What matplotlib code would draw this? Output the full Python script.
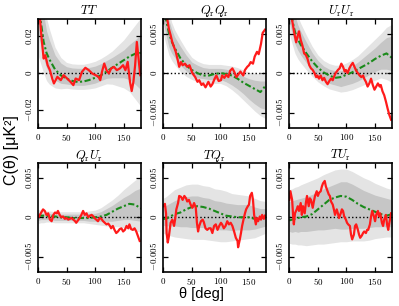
import numpy as np
import matplotlib
matplotlib.use("Agg")
import matplotlib.pyplot as plt
from matplotlib.ticker import FuncFormatter

plt.rcParams['mathtext.fontset'] = 'cm'

# common grid for the model curve and the simulation bands
grid = [0, 5, 10, 15, 20, 30, 40, 50, 60, 70, 80, 90, 100, 110, 120, 130, 140, 150, 160, 170, 180]

# ---------------- TT ----------------
tt_theta = [3, 6, 10, 13, 17, 21, 25, 28, 34, 40, 45, 51, 57, 62, 66, 72, 77, 83, 89, 95, 101, 106, 109,
            112, 116, 120, 124, 128, 133, 138, 143, 149, 153, 157, 161, 164, 167, 170, 173, 176, 179]
tt_data = [0.032, 0.0205, 0.0079, 0.0097, 0.0043, 0.0016, -0.0029, -0.0056, -0.002, -0.0038, -0.0011,
           -0.0029, -0.0047, -0.0065, -0.0029, -0.0038, 0.0007, 0.0029, 0.0016, -0.0002, -0.0011, -0.002,
           -0.0038, 0.0007, 0.0052, 0.0016, -0.0002, 0.0025, 0.0034, 0.0016, 0.0025, 0.0043, 0.0016, 0.0061,
           -0.0047, -0.0097, -0.0047, 0.0043, 0.0169, 0.0079, -0.0011]
tt_model = [0.045, 0.028, 0.017, 0.011, 0.0075, 0.002, -0.0012, -0.003, -0.0042, -0.0048, -0.0045, -0.0037,
            -0.0025, -0.0012, 0.0008, 0.003, 0.005, 0.007, 0.009, 0.0105, 0.011]
tt_mid = [0.04, 0.03, 0.02, 0.013, 0.009, 0.003, 0.0, -0.0012, -0.0018, -0.002, -0.002, -0.0015, -0.0008,
          0.0005, 0.002, 0.003, 0.004, 0.005, 0.006, 0.006, 0.006]
tt_s1 = [0.018, 0.015, 0.012, 0.01, 0.009, 0.0068, 0.0055, 0.0047, 0.0046, 0.0046, 0.0046, 0.0046, 0.0046,
         0.0046, 0.0048, 0.0055, 0.0065, 0.0075, 0.0095, 0.012, 0.015]
tt_s2 = [0.03, 0.025, 0.02, 0.017, 0.015, 0.011, 0.0085, 0.007, 0.0068, 0.0068, 0.0068, 0.007, 0.0072,
         0.0074, 0.0078, 0.009, 0.011, 0.013, 0.016, 0.02, 0.024]

# ---------------- QrQr ----------------
qq_theta = [7, 10, 13, 16, 19, 22, 25, 28, 31, 34, 38, 42, 46, 51, 56, 60, 63, 67, 70, 74, 79, 83, 86, 90,
            93, 97, 101, 103, 107, 110, 114, 117, 121, 124, 128, 131, 135, 140, 143, 147, 150, 153, 157,
            160, 164, 167, 171, 174, 178]
qq_data = [0.0069, 0.0056, 0.0048, 0.0039, 0.0033, 0.0027, 0.0018, 0.0008, 0.0014, 0.001, 0.0012, 0.0008,
           0.001, 0.0, -0.0005, -0.0011, -0.0009, -0.0015, -0.0013, -0.0018, -0.0011, -0.0017, -0.0014,
           -0.0007, -0.0003, -0.001, -0.0009, -0.0003, -0.0006, -0.0002, -0.0005, 0.0003, 0.0006, 0.0002,
           -0.0005, -0.0002, 0.0002, -0.0003, 0.0004, 0.0008, 0.001, 0.0014, 0.0012, 0.0021, 0.0027, 0.0024,
           0.0037, 0.0051, 0.0055]
qq_model = [0.009, 0.0068, 0.0051, 0.004, 0.0032, 0.0019, 0.001, 0.0004, 0.0, -0.0003, -0.0003, -0.0001,
            0.0, -0.0001, -0.0003, -0.0007, -0.0012, -0.0016, -0.002, -0.0024, -0.0015]
qq_mid = [0.009, 0.0068, 0.005, 0.004, 0.0033, 0.0022, 0.0013, 0.0006, 0.0002, 0.0, -0.0001, -0.0001,
          -0.0001, -0.0003, -0.0006, -0.001, -0.0015, -0.002, -0.0024, -0.0027, -0.0028]
qq_s1 = [0.0025, 0.002, 0.0017, 0.0015, 0.0013, 0.0012, 0.001, 0.0008, 0.0008, 0.0007, 0.0007, 0.0007,
         0.0007, 0.0008, 0.0009, 0.001, 0.0011, 0.0013, 0.0015, 0.0017, 0.0018]
qq_s2 = [0.004, 0.0032, 0.0027, 0.0024, 0.0022, 0.002, 0.0017, 0.0014, 0.0013, 0.0012, 0.0012, 0.0012,
         0.0012, 0.0013, 0.0015, 0.0017, 0.0019, 0.0021, 0.0024, 0.0027, 0.003]

# ---------------- UrUr ----------------
uu_theta = [5, 9, 12, 15, 17, 20, 23, 26, 29, 32, 35, 38, 41, 44, 47, 49, 52, 55, 58, 61, 64, 67, 70, 73,
            76, 78, 81, 85, 88, 91, 94, 97, 99, 102, 105, 108, 111, 114, 117, 120, 123, 126, 129, 131, 134,
            137, 140, 143, 146, 149, 152, 155, 158, 160, 163, 166, 169, 172, 175, 178]
uu_data = [0.0067, 0.005, 0.0039, 0.0048, 0.0053, 0.0042, 0.0035, 0.0025, 0.0023, 0.0018, 0.001, 0.0006,
           0.0004, 0.0, -0.0005, -0.0003, -0.0007, -0.0003, -0.0009, -0.0006, -0.0011, -0.0014, -0.001,
           -0.0007, -0.0009, -0.0005, 0.0, 0.0004, 0.0006, 0.0012, 0.0008, 0.0002, 0.0004, 0.0, 0.0006,
           0.001, 0.0013, 0.0008, 0.0003, 0.0, -0.0003, -0.0005, -0.0003, -0.0007, -0.0011, -0.0017,
           -0.0013, -0.0007, -0.0015, -0.0021, -0.0017, -0.0013, -0.0017, -0.0015, -0.0023, -0.0028,
           -0.0036, -0.0045, -0.0053, -0.0059]
uu_model = [0.009, 0.0068, 0.0052, 0.0043, 0.0036, 0.0025, 0.0015, 0.0007, 0.0001, -0.0003, -0.0006,
            -0.0005, -0.0002, 0.0001, 0.0005, 0.0009, 0.0013, 0.0018, 0.0022, 0.0025, 0.0019]
uu_mid = [0.009, 0.007, 0.0055, 0.0045, 0.0038, 0.0026, 0.0015, 0.0006, 0.0, -0.0004, -0.0006, -0.0007,
          -0.0005, -0.0002, 0.0002, 0.0007, 0.0012, 0.0017, 0.0022, 0.0025, 0.0025]
uu_s1 = [0.0025, 0.002, 0.0018, 0.0016, 0.0015, 0.0013, 0.0011, 0.001, 0.0009, 0.0009, 0.0009, 0.001,
         0.001, 0.0011, 0.0012, 0.0013, 0.0014, 0.0015, 0.0017, 0.002, 0.0022]
uu_s2 = [0.004, 0.0033, 0.003, 0.0027, 0.0025, 0.0022, 0.0019, 0.0017, 0.0016, 0.0016, 0.0016, 0.0017,
         0.0018, 0.0019, 0.002, 0.0022, 0.0024, 0.0026, 0.0028, 0.0033, 0.0037]

# ---------------- QrUr ----------------
qu_theta = [2, 5, 9, 12, 15, 18, 21, 24, 27, 30, 33, 35, 38, 41, 44, 47, 50, 53, 56, 59, 62, 65, 67, 70,
            73, 76, 79, 82, 85, 88, 91, 94, 97, 99, 102, 105, 108, 111, 114, 117, 120, 123, 126, 128, 131,
            134, 137, 140, 143, 146, 149, 152, 155, 158, 160, 163, 166, 169, 172, 175, 178]
qu_data = [0.0001, 0.0005, 0.001, 0.0008, 0.0003, 0.0005, -0.0003, -0.0005, 0.0003, 0.0006, 0.0005,
           0.0008, 0.0003, 0.0, 0.0001, -0.0002, -0.0001, -0.0003, -0.0002, -0.0001, -0.0003, -0.0005,
           -0.0007, -0.0004, -0.0001, 0.0003, 0.0008, 0.0003, 0.0005, 0.0, 0.0002, 0.0003, 0.0001, -0.0001,
           -0.0003, -0.0005, -0.0001, -0.0002, -0.0005, -0.0007, -0.0009, -0.0008, -0.0011, -0.0014,
           -0.0011, -0.0016, -0.002, -0.0018, -0.0015, -0.0014, -0.0018, -0.0016, -0.0011, -0.0014,
           -0.0009, -0.0015, -0.0016, -0.0014, -0.0018, -0.0024, -0.003]
qu_model = [0.0002, 0.0002, 0.0002, 0.0002, 0.0001, 0.0001, 0.0, 0.0, -0.0001, -0.0001, -0.0001, -0.0001,
            0.0, 0.0001, 0.0003, 0.0007, 0.0011, 0.0014, 0.0017, 0.0016, 0.0011]
qu_mid = [0.0001, 0.0001, 0.0001, 0.0001, 0.0001, 0.0, 0.0, 0.0, 0.0, 0.0, 0.0, 0.0, 0.0, 0.0001, 0.0003,
          0.0005, 0.0008, 0.0011, 0.0013, 0.0015, 0.0016]
qu_s1 = [0.0005, 0.0004, 0.0004, 0.0004, 0.0004, 0.0004, 0.0004, 0.0004, 0.0004, 0.0004, 0.0004, 0.0005,
         0.0005, 0.0006, 0.0008, 0.001, 0.0012, 0.0014, 0.0016, 0.0019, 0.0021]
qu_s2 = [0.0009, 0.0008, 0.0008, 0.0007, 0.0007, 0.0007, 0.0007, 0.0007, 0.0007, 0.0007, 0.0007, 0.0008,
         0.0009, 0.0011, 0.0014, 0.0017, 0.002, 0.0024, 0.0028, 0.0032, 0.0035]

# ---------------- TQr ----------------
tq_theta = [0, 3, 5, 6, 8, 10, 13, 16, 19, 21, 23, 26, 28, 31, 34, 37, 40, 42, 45, 48, 51, 54, 57, 59, 61,
            63, 66, 69, 71, 74, 77, 80, 83, 86, 89, 92, 95, 98, 101, 103, 106, 109, 112, 115, 118, 121, 124,
            127, 130, 131, 134, 136, 138, 141, 143, 145, 148, 150, 152, 155, 157, 159, 162, 164, 166, 169,
            171, 173, 176, 178]
tq_data = [0.0014, 0.0017, 0.0005, -0.002, -0.0032, -0.0024, -0.0007, -0.0003, -0.0011, -0.0002, 0.001,
           0.0018, 0.0027, 0.0026, 0.0022, 0.0027, 0.0024, 0.002, 0.0022, 0.0016, 0.0012, 0.0018, 0.0012,
           -0.0007, -0.0018, -0.0011, -0.0005, -0.0003, -0.0006, -0.0014, -0.0016, -0.0014, -0.0014, -0.002,
           -0.0011, -0.0009, -0.0016, -0.0011, -0.0007, -0.0009, -0.0014, -0.0011, -0.0005, -0.0009,
           -0.0007, -0.0011, -0.0018, -0.0026, -0.003, -0.0038, -0.0028, -0.002, -0.0011, -0.0001, 0.0005,
           0.001, 0.0014, 0.0016, 0.0027, 0.0031, 0.0022, 0.0003, -0.0009, -0.0001, -0.0005, 0.0001,
           -0.0003, 0.0003, -0.0002, 0.0002]
tq_model = [-0.0002, -0.0002, 0.0, 0.0002, 0.0004, 0.0006, 0.001, 0.0013, 0.0014, 0.0013, 0.0011, 0.0008,
            0.0005, 0.0002, 0.0001, 0.0, 0.0, 0.0, -0.0002, -0.0001, 0.0]
tq_mid = [0.0002, 0.0002, 0.0003, 0.0004, 0.0005, 0.0006, 0.0007, 0.0007, 0.0007, 0.0006, 0.0005, 0.0003,
          0.0002, 0.0001, 0.0, 0.0, 0.0, 0.0, -0.0001, -0.0001, 0.0]
tq_s1 = [0.0012, 0.0013, 0.0014, 0.0015, 0.0016, 0.0018, 0.0019, 0.002, 0.002, 0.0019, 0.0019, 0.0018,
         0.0018, 0.0017, 0.0017, 0.0016, 0.0016, 0.0016, 0.0014, 0.0012, 0.0011]
tq_s2 = [0.0022, 0.0024, 0.0026, 0.0028, 0.003, 0.0032, 0.0034, 0.0035, 0.0035, 0.0034, 0.0034, 0.0033,
         0.0033, 0.0032, 0.003, 0.0029, 0.0028, 0.0027, 0.0025, 0.0022, 0.002]

# ---------------- TUr ----------------
tu_theta = [0, 2, 5, 7, 8, 10, 13, 15, 17, 20, 22, 24, 27, 29, 31, 34, 36, 38, 41, 43, 45, 48, 50, 52, 55,
            57, 59, 62, 64, 66, 69, 71, 73, 76, 78, 80, 83, 85, 87, 90, 92, 94, 96, 99, 101, 103, 106, 108,
            110, 113, 115, 117, 120, 122, 124, 127, 129, 131, 134, 136, 138, 141, 143, 145, 148, 150, 152,
            155, 157, 159, 162, 164, 166, 169, 171, 173, 175, 178]
tu_data = [0.0022, 0.0033, 0.0022, -0.0001, -0.0009, 0.0005, 0.001, 0.0014, 0.0008, 0.0018, 0.0003,
           0.0014, 0.0005, 0.0018, 0.0027, 0.0014, 0.0024, 0.0022, 0.0012, 0.002, 0.0027, 0.0033, 0.0027,
           0.0031, 0.0033, 0.0039, 0.0043, 0.0046, 0.0039, 0.0035, 0.0029, 0.0027, 0.002, 0.0016, 0.001,
           0.0003, 0.001, 0.0005, -0.0001, 0.0005, 0.001, 0.0008, 0.0001, -0.0003, -0.0007, -0.0009,
           -0.0011, -0.0022, -0.0028, -0.0022, -0.0011, -0.0009, -0.0016, -0.0022, -0.0026, -0.0023,
           -0.002, -0.0018, -0.002, -0.0016, -0.0016, -0.0009, 0.0001, 0.0008, 0.0001, -0.0005, 0.0003,
           0.0008, 0.0001, 0.0005, -0.0007, -0.0011, -0.0003, 0.0003, -0.0009, -0.0016, -0.0007, 0.0005]
tu_model = [-0.0004, -0.0003, -0.0002, -0.0001, 0.0, 0.0001, 0.0004, 0.001, 0.0016, 0.0022, 0.0025,
            0.0027, 0.0026, 0.0022, 0.0017, 0.0013, 0.001, 0.0007, 0.0004, 0.0002, 0.0004]
tu_mid = [0.0001, 0.0001, 0.0002, 0.0002, 0.0003, 0.0004, 0.0006, 0.0008, 0.001, 0.0012, 0.0014, 0.0015,
          0.0015, 0.0014, 0.0012, 0.001, 0.0009, 0.0008, 0.0007, 0.0006, 0.0005]
tu_s1 = [0.0019, 0.002, 0.002, 0.0021, 0.0021, 0.0022, 0.0023, 0.0024, 0.0026, 0.0027, 0.0028, 0.003,
         0.003, 0.0028, 0.0026, 0.0024, 0.0022, 0.002, 0.0019, 0.0018, 0.0017]
tu_s2 = [0.0034, 0.0035, 0.0036, 0.0037, 0.0038, 0.004, 0.0041, 0.0042, 0.0044, 0.0045, 0.0046, 0.0046,
         0.0046, 0.0044, 0.0042, 0.004, 0.0038, 0.0035, 0.0033, 0.0031, 0.003]

titles = [r'$TT$', r'$Q_{\rm r}Q_{\rm r}$', r'$U_{\rm r}U_{\rm r}$',
          r'$Q_{\rm r}U_{\rm r}$', r'$TQ_{\rm r}$', r'$TU_{\rm r}$']


def draw_panel(ax, title, theta, data, model, mid, s1, s2, ylim, yticks):
    g = np.array(grid)
    mid = np.array(mid)
    s1 = np.array(s1)
    s2 = np.array(s2)
    ax.fill_between(g, mid - s2, mid + s2, color='#e4e4e4', lw=0)
    ax.fill_between(g, mid - s1, mid + s1, color='#c6c6c6', lw=0)
    ax.axhline(0, color='k', ls=':', lw=1.0)
    ax.plot(g, model, color='#1a8a1a', lw=1.5, ls=(0, (3, 1.2, 1, 1.2)))
    ax.plot(theta, data, color='#ff1a1a', lw=1.6)
    ax.set_xlim(0, 180)
    ax.set_ylim(-ylim, ylim)
    ax.set_xticks([0, 50, 100, 150])
    ax.set_yticks(yticks)
    fmt = FuncFormatter(lambda v, p: '$%g$' % v)
    ax.xaxis.set_major_formatter(fmt)
    ax.yaxis.set_major_formatter(fmt)
    ax.tick_params(direction='in', top=True, right=True, length=3.5, width=0.9,
                   labelsize=6.5, pad=3)
    for lbl in ax.get_yticklabels():
        lbl.set_rotation(90)
        lbl.set_va('center')
    for sp in ax.spines.values():
        sp.set_linewidth(1.2)
    ax.set_title(title, fontsize=9, pad=3)


fig = plt.figure(figsize=(3.99, 3.06), dpi=100)
lefts = [0.095, 0.409, 0.725]
bottoms = [0.583, 0.112]
w, h = 0.258, 0.356

panels = [
    (tt_theta, tt_data, tt_model, tt_mid, tt_s1, tt_s2, 0.0295, [-0.02, 0, 0.02]),
    (qq_theta, qq_data, qq_model, qq_mid, qq_s1, qq_s2, 0.0069, [-0.005, 0, 0.005]),
    (uu_theta, uu_data, uu_model, uu_mid, uu_s1, uu_s2, 0.0069, [-0.005, 0, 0.005]),
    (qu_theta, qu_data, qu_model, qu_mid, qu_s1, qu_s2, 0.0069, [-0.005, 0, 0.005]),
    (tq_theta, tq_data, tq_model, tq_mid, tq_s1, tq_s2, 0.0069, [-0.005, 0, 0.005]),
    (tu_theta, tu_data, tu_model, tu_mid, tu_s1, tu_s2, 0.0069, [-0.005, 0, 0.005]),
]

for i, p in enumerate(panels):
    ax = fig.add_axes([lefts[i % 3], bottoms[i // 3], w, h])
    draw_panel(ax, titles[i], *p)

fig.text(0.03, 0.51, 'C(θ) [μK²]', rotation=90,
         ha='center', va='center', fontsize=11.5, family='Liberation Sans')
fig.text(0.505, 0.04, 'θ [deg]', ha='center', va='center', fontsize=10.5, family='Liberation Sans')

fig.savefig('out.png', dpi=100)
